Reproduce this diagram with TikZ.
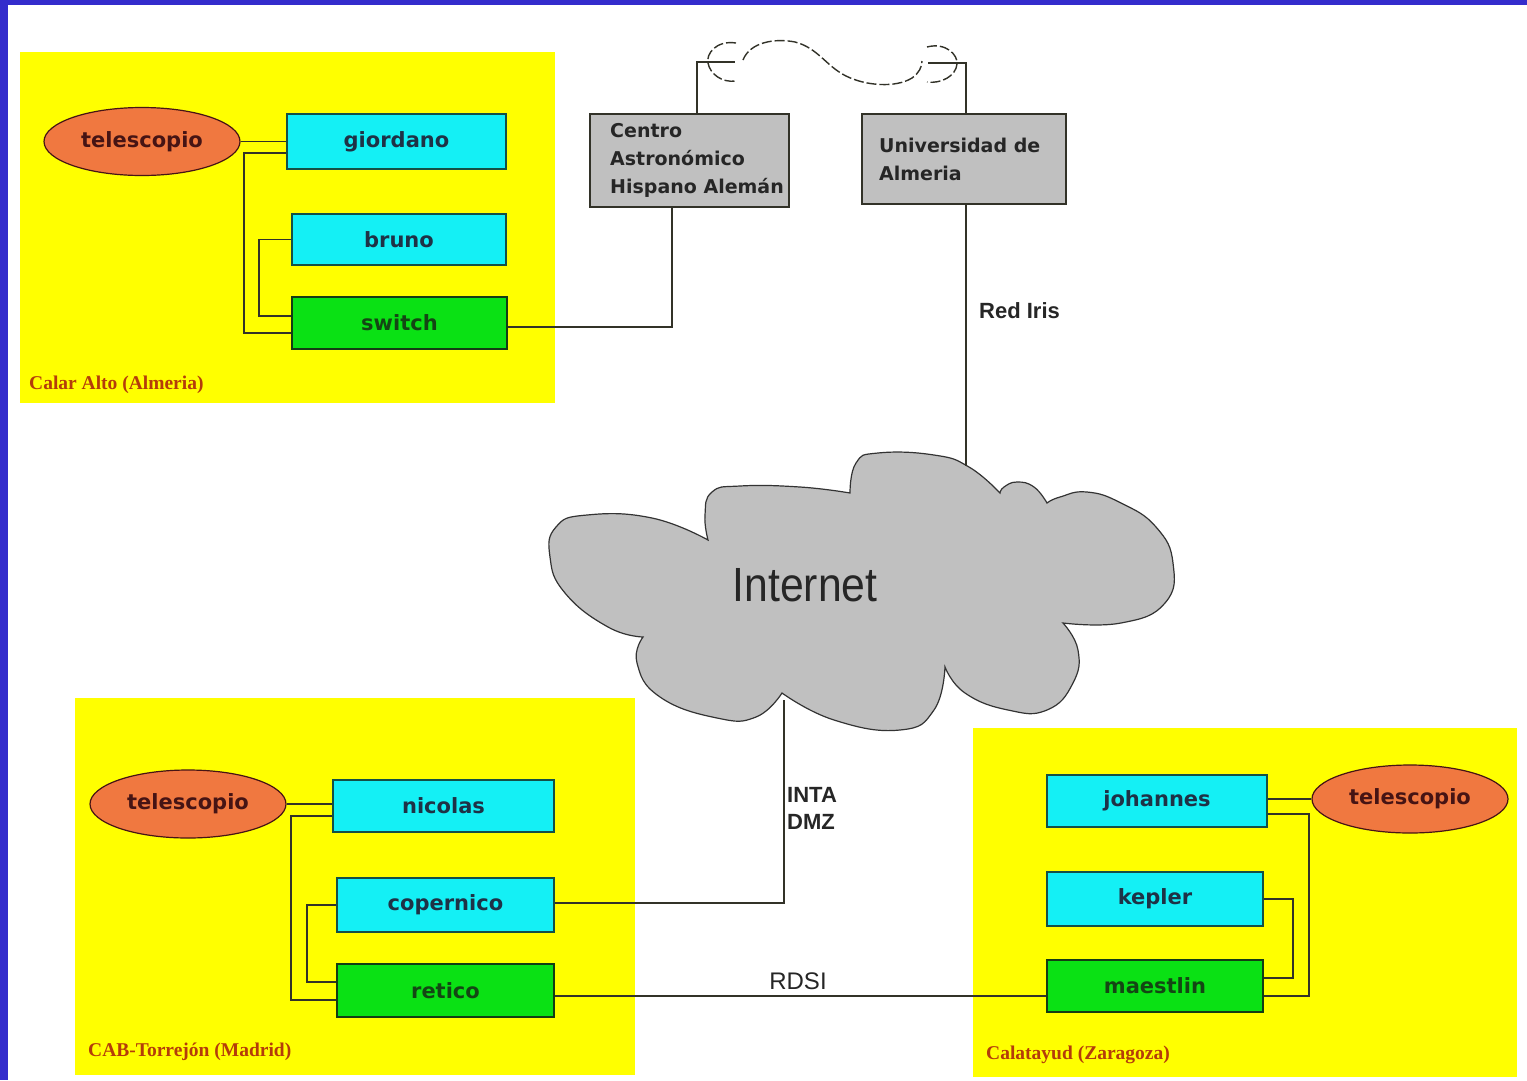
\documentclass[tikz,border=0pt]{standalone}
\usepackage{fontspec}
\usepackage{graphicx}
\setmainfont{Liberation Sans}
\newfontfamily\dvs{DejaVu Sans}
\newfontfamily\libserif{Liberation Serif}
\usetikzlibrary{shapes.geometric,calc}
\definecolor{bluebar}{RGB}{52,44,204}
\definecolor{panelyellow}{RGB}{255,255,0}
\definecolor{cyanfill}{RGB}{20,240,245}
\definecolor{greenfill}{RGB}{10,225,20}
\definecolor{orangefill}{RGB}{240,120,64}
\definecolor{grayfill}{RGB}{192,192,192}
\definecolor{linec}{RGB}{50,50,40}
\definecolor{cyanborder}{RGB}{20,80,70}
\definecolor{greenborder}{RGB}{20,60,20}
\definecolor{cyantext}{RGB}{30,50,70}
\definecolor{greentext}{RGB}{20,70,20}
\definecolor{teltext}{RGB}{70,20,20}
\definecolor{sitetext}{RGB}{180,60,10}
\begin{document}
\begin{tikzpicture}[x=1pt,y=-1pt,
  conn/.style={draw=linec, line width=1.6pt},
  panel/.style={fill=panelyellow},
  hostbox/.style={draw=cyanborder, fill=cyanfill, line width=2pt, inner sep=0pt,
    text=cyantext, font={\dvs\bfseries\fontsize{21pt}{25pt}\selectfont}},
  swbox/.style={hostbox, draw=greenborder, fill=greenfill, text=greentext},
  telell/.style={ellipse, draw=teltext, fill=orangefill, line width=1.2pt, inner sep=0pt,
    minimum width=196pt, minimum height=68pt, text=teltext,
    font={\dvs\bfseries\fontsize{21pt}{25pt}\selectfont}},
  graybox/.style={draw=linec, fill=grayfill, line width=1.6pt, inner sep=0pt},
  graytxt/.style={align=left, inner sep=0pt, text=black!85,
    font={\dvs\bfseries\fontsize{19pt}{28pt}\selectfont}},
  sitelbl/.style={anchor=west, inner sep=0pt, text=sitetext,
    font={\libserif\bfseries\fontsize{19.5pt}{20pt}\selectfont}},
  linklbl/.style={inner sep=0pt, text=black!85,
    font={\bfseries\fontsize{22pt}{27pt}\selectfont}},
  radio/.style={draw=linec, line width=1.4pt, dash pattern=on 10pt off 3pt},
  cloudsty/.style={draw=black!80, fill=grayfill, line width=1.2pt}
]
\useasboundingbox (0,0) rectangle (1527,1080);
\fill[white] (0,0) rectangle (1527,1080);
\fill[bluebar] (0,0) rectangle (1527,5);
\fill[bluebar] (0,0) rectangle (8,1080);

% panels
\fill[panel] (20,52) rectangle (555,403);
\fill[panel] (75,698) rectangle (635,1075);
\fill[panel] (973,728) rectangle (1517,1077);

% Calar Alto
\node[telell] (tel1) at (142,141.5) {telescopio};
\node[hostbox, minimum width=219pt, minimum height=55pt] (gio) at (396.5,141.5) {giordano};
\node[hostbox, minimum width=214pt, minimum height=51pt] (bru) at (399,239.5) {bruno};
\node[swbox, minimum width=215pt, minimum height=52pt] (sw) at (399.5,323) {switch};
\node[sitelbl] (site1) at (29,385) {Calar Alto (Almeria)};

% institutions
\node[graybox, minimum width=199pt, minimum height=93pt] (caha) at (689.5,160.5) {};
\node[graytxt, anchor=west] (cahat) at (610,160) {Centro\\Astronómico\\Hispano Alemán};
\node[graybox, minimum width=204pt, minimum height=90pt] (ual) at (964,159) {};
\node[graytxt, anchor=west] (ualt) at (879,159) {Universidad de\\Almeria};

% radio link
\coordinate (rl) at (735,62);
\coordinate (rr) at (928,63);
\draw[radio] (736,43) .. controls (716,40) and (706,54) .. (708,63) .. controls (710,74) and (722,83) .. (736,81);
\draw[radio] (743,60) .. controls (750,42) and (775,38) .. (795,42) .. controls (818,48) and (826,66) .. (846,76) .. controls (866,86) and (896,88) .. (912,78) .. controls (919,73) and (922,67) .. (922,61);
\draw[radio] (927,47) .. controls (946,42) and (958,55) .. (957,64) .. controls (956,76) and (941,84) .. (927,82);

% cloud
\draw[cloudsty]
  plot[smooth, tension=0.8] coordinates {(708,540) (652,518) (587,515) (556,527) (550,557) (565,593) (608,627) (643,637)}
  -- plot[smooth, tension=0.8] coordinates {(643,637) (637,663) (660,697) (717,718) (756,717) (782,693)}
  -- plot[smooth, tension=0.8] coordinates {(782,693) (834,720) (900,730) (934,710) (945,667)}
  -- plot[smooth, tension=0.8] coordinates {(945,667) (965,693) (1008,710) (1047,710) (1073,683) (1078,650) (1063,623)}
  -- plot[smooth, tension=0.8] coordinates {(1063,623) (1121,623) (1165,603) (1173,563) (1156,527) (1121,503) (1087,492) (1060,497) (1047,503)}
  -- plot[smooth, tension=0.8] coordinates {(1047,503) (1034,487) (1017,482) (1004,487) (1000,493)}
  -- plot[smooth, tension=0.8] coordinates {(1000,493) (969,467) (934,455) (878,453) (856,463) (850,493)}
  -- plot[smooth, tension=0.8] coordinates {(850,493) (800,487) (740,486) (712,492) (705,515) (708,540)}
  -- cycle;
\node[inner sep=0pt, text=black!85] (inet) at (805,585) {\scalebox{0.89}[1]{\fontsize{48pt}{50pt}\selectfont Internet}};
\coordinate (cloudtop) at (966,466);
\coordinate (cloudbot) at (784,700);

% CAB
\node[telell] (tel2) at (188,804) {telescopio};
\node[hostbox, minimum width=221pt, minimum height=52pt] (nic) at (443.5,806) {nicolas};
\node[hostbox, minimum width=217pt, minimum height=54pt] (cop) at (445.5,905) {copernico};
\node[swbox, minimum width=217pt, minimum height=53pt] (ret) at (445.5,990.5) {retico};
\node[sitelbl] (site2) at (88,1052) {CAB-Torrejón (Madrid)};

% Calatayud
\node[hostbox, minimum width=220pt, minimum height=52pt] (joh) at (1157,801) {johannes};
\node[hostbox, minimum width=216pt, minimum height=54pt] (kep) at (1155,899) {kepler};
\node[swbox, minimum width=216pt, minimum height=52pt] (mae) at (1155,986) {maestlin};
\node[telell] (tel3) at (1410,799) {telescopio};
\node[sitelbl] (site3) at (986,1055) {Calatayud (Zaragoza)};

% connectors Calar Alto
\draw[conn] (tel1.east) -- (tel1.east -| gio.west);
\draw[conn] ([yshift=-11.5pt]gio.west) -- ++(-42,0) |- ([yshift=-10pt]sw.west);
\draw[conn] (bru.west) -- ++(-32,0) |- ([yshift=7pt]sw.west);
\draw[conn] ([yshift=-4pt]sw.east) -| ([xshift=-17.5pt]caha.south);
\draw[conn] ([xshift=7.5pt]caha.north) |- (rl);
\draw[conn] ([xshift=2pt]ual.north) |- (rr);
\draw[conn] ([xshift=2pt]ual.south) -- (cloudtop);

% connectors CAB
\draw[conn] (tel2.east) -- (tel2.east -| nic.west);
\draw[conn] ([yshift=-10pt]nic.west) -- ++(-41,0) |- ([yshift=-9.5pt]ret.west);
\draw[conn] (cop.west) -- ++(-29,0) |- ([yshift=8.5pt]ret.west);
\draw[conn] ([yshift=2pt]cop.east) -| (cloudbot);
\draw[conn] ([yshift=-5.5pt]ret.east) -- ([yshift=-5.5pt]ret.east -| mae.west);

% connectors Calatayud
\draw[conn] ([yshift=2pt]joh.east) -- ([yshift=2pt]joh.east -| tel3.west);
\draw[conn] ([yshift=-13pt]joh.east) -- ++(41,0) |- ([yshift=-10pt]mae.east);
\draw[conn] (kep.east) -- ++(29,0) |- ([yshift=8pt]mae.east);

% link labels
\node[linklbl, anchor=west] (redl) at (979,311) {Red Iris};
\node[linklbl, anchor=north west, align=left] (intal) at (787,787) {INTA\\DMZ};
\node[linklbl, font={\fontsize{24pt}{26pt}\selectfont}] (rdsil) at (798,981) {RDSI};
\end{tikzpicture}
\end{document}
